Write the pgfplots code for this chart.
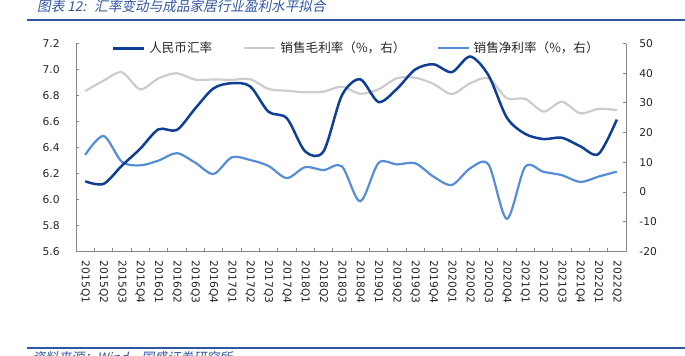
\documentclass[border=0pt]{standalone}
\usepackage{fontspec}
\setmainfont{DejaVu Sans}
\newfontfamily\cjk{Noto Sans CJK SC}
\newfontfamily\cjkit[FakeSlant=0.2]{Noto Sans CJK SC}
\usepackage{pgfplots}
\pgfplotsset{compat=1.18}
\usepackage{pgfplotstable}
\definecolor{rmb}{RGB}{14,62,150}
\definecolor{gm}{RGB}{204,204,204}
\definecolor{nm}{RGB}{85,142,213}
\definecolor{axgray}{RGB}{134,134,134}
\definecolor{titleblue}{RGB}{47,85,160}

\pgfplotstableread{
x rmb gm nm
0 6.14 34.0 12.5
1 6.12 37.5 18.9
2 6.26 40.3 10.2
3 6.39 34.6 9.0
4 6.54 38.3 10.6
5 6.535 40.0 13.1
6 6.70 37.8 9.9
7 6.855 37.9 6.1
8 6.895 37.8 11.7
9 6.87 38.0 10.8
10 6.675 34.7 8.8
11 6.625 34.1 4.7
12 6.37 33.6 8.4
13 6.37 33.8 7.4
14 6.80 35.5 8.7
15 6.925 33.1 -3.1
16 6.75 34.6 9.8
17 6.85 38.3 9.3
18 7.00 38.5 9.7
19 7.04 36.4 5.2
20 6.98 33.0 2.4
21 7.10 36.6 8.0
22 6.955 38.3 9.3
23 6.63 31.6 -9.0
24 6.505 31.4 8.5
25 6.465 27.1 6.8
26 6.475 30.4 5.7
27 6.41 26.5 3.4
28 6.35 28.0 5.2
29 6.615 27.6 6.9
}\data

\pgfplotsset{
  base/.style={
    scale only axis, width=275pt, height=104pt,
    at={(38pt,51.75pt)}, anchor=south west,
    xmin=-0.5, xmax=29.5,
    tick align=inside,
    major tick length=1.6pt,
    tick style={draw=axgray, line width=0.5pt},
    axis line style={-, draw=axgray, line width=0.5pt},
    ticklabel style={font=\fontsize{5.35pt}{6pt}\selectfont, text=black!85},
  }
}

\begin{document}
\begin{tikzpicture}
\useasboundingbox (0,0) rectangle (342.5pt,177.5pt);
\clip (0,0) rectangle (342.5pt,177.5pt);

% title
\node[anchor=west, inner sep=0pt, text=titleblue, font=\cjkit\fontsize{6.8pt}{7pt}\selectfont] at (18.4pt,174.3pt) {图表 12:};
\node[anchor=west, inner sep=0pt, text=titleblue, font=\cjkit\fontsize{6.8pt}{7pt}\selectfont] at (47pt,174.3pt) {汇率变动与成品家居行业盈利水平拟合};
\draw[titleblue, line width=1pt] (13.5pt,167.5pt) -- (342.5pt,167.5pt);

% bottom
\draw[titleblue, line width=1pt] (13.5pt,3.5pt) -- (342.5pt,3.5pt);
\node[anchor=north west, inner sep=0pt, text=titleblue, font=\cjkit\fontsize{6.5pt}{7pt}\selectfont] at (16pt,1.8pt) {资料来源：Wind，国盛证券研究所};

% right axis
\begin{axis}[base,
  ymin=-20, ymax=50,
  axis x line=none, axis y line*=right,
  ytick={-20,-10,0,10,20,30,40,50},
  yticklabels={-20,-10,0,10,20,30,40,50},
  yticklabel style={anchor=west, inner sep=0pt, xshift=6.5pt},
]
\addplot[gm, line width=1.1pt, smooth] table[x=x,y=gm]{\data};
\addplot[nm, line width=1.1pt, smooth] table[x=x,y=nm]{\data};
\end{axis}

% left axis
\begin{axis}[base,
  ymin=5.6, ymax=7.2,
  axis y line*=left, axis x line*=bottom,
  ytick={5.6,5.8,6.0,6.2,6.4,6.6,6.8,7.0,7.2},
  yticklabels={5.6,5.8,6.0,6.2,6.4,6.6,6.8,7.0,7.2},
  yticklabel style={anchor=east, inner sep=0pt, xshift=-8pt},
  xtick={-0.5,0.5,...,29.5},
  xticklabels={},
  extra x ticks={0,1,...,29},
  extra x tick labels={2015Q1,2015Q2,2015Q3,2015Q4,2016Q1,2016Q2,2016Q3,2016Q4,2017Q1,2017Q2,2017Q3,2017Q4,2018Q1,2018Q2,2018Q3,2018Q4,2019Q1,2019Q2,2019Q3,2019Q4,2020Q1,2020Q2,2020Q3,2020Q4,2021Q1,2021Q2,2021Q3,2021Q4,2022Q1,2022Q2},
  extra x tick style={major tick length=0pt, xticklabel style={yshift=-4.5pt, rotate=-90, anchor=west, inner sep=0pt}},
  legend columns=3,
  legend style={draw=none, fill=none, inner sep=0pt, outer sep=0pt,
    at={(axis description cs:0.065,0.977)}, anchor=west,
    font=\cjk\fontsize{6.3pt}{7pt}\selectfont, text=black!85,
    nodes={inner sep=0pt, anchor=west},
    /tikz/every odd column/.style={column sep=2pt},
    /tikz/every even column/.style={column sep=15.5pt}},
  legend image code/.code={\draw[#1] (0pt,0pt) -- (15.5pt,0pt);},
]
\addplot[rmb, line width=1.25pt, smooth] table[x=x,y=rmb]{\data};
\addlegendentry{人民币汇率}
\addlegendimage{gm, line width=1.1pt}
\addlegendentry{销售毛利率（\%，右）}
\addlegendimage{nm, line width=1.1pt}
\addlegendentry{销售净利率（\%，右）}
\end{axis}
\end{tikzpicture}
\end{document}
